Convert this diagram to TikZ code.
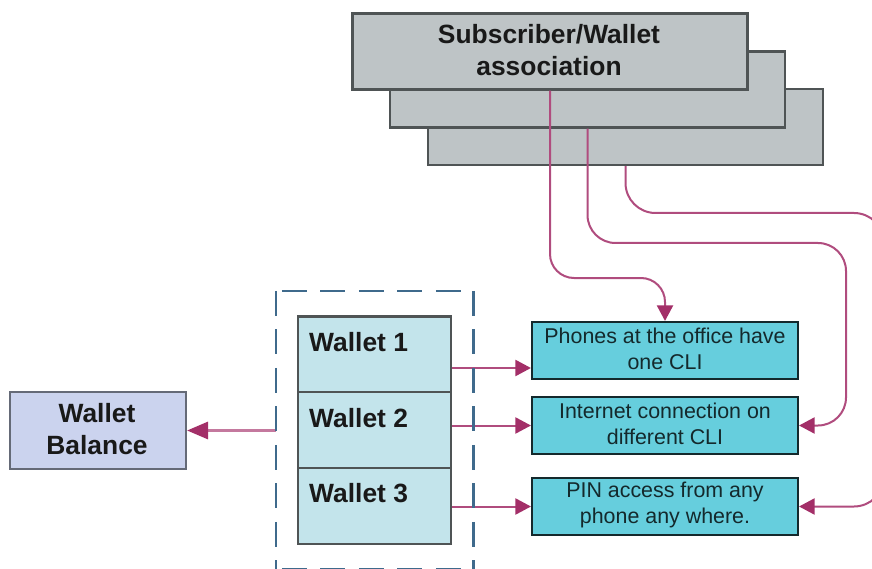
\documentclass[tikz,border=0pt]{standalone}
\usepackage{fontspec}
\setmainfont{Liberation Sans}
\usetikzlibrary{arrows.meta,calc}
\definecolor{conn}{HTML}{B04C7E}
\definecolor{tipc}{HTML}{A32F68}
\definecolor{greyfill}{HTML}{BEC4C6}
\definecolor{walletfill}{HTML}{C3E4EB}
\definecolor{balfill}{HTML}{CBD3EE}
\definecolor{teal}{HTML}{66CEDD}
\definecolor{framec}{HTML}{3F6A8C}
\definecolor{edgec}{HTML}{4F5455}
\tikzset{
  box/.style={draw=edgec,line width=2.1pt,inner sep=0pt,align=center},
  greybox/.style={box,fill=greyfill,minimum width=395pt,minimum height=76pt},
  walletbox/.style={box,fill=walletfill,minimum width=153pt,minimum height=76pt},
  tealbox/.style={box,draw=black!80!teal,fill=teal,minimum width=266pt,minimum height=57pt},
  tealtext/.style={inner sep=0pt,align=center,font=\fontsize{21.4}{26}\selectfont,text=black!80!teal},
  balbox/.style={box,draw=black!50!balfill,fill=balfill,minimum width=176pt,minimum height=77pt},
  boldtext/.style={inner sep=0pt,align=center,font=\fontsize{26.4}{32}\selectfont\bfseries,text=black!90},
  wire/.style={draw=conn,line width=2pt},
  arrowwire/.style={wire,-{Triangle[length=15.5pt,width=16pt,color=tipc]}},
  balwire/.style={draw=conn!75,line width=3pt,-{Triangle[length=21pt,width=17pt,color=tipc]}},
  framedash/.style={draw=framec,line width=2.6pt,dash pattern=on 25pt off 13.5pt}
}
\begin{document}
\begin{tikzpicture}[x=1pt,y=-1pt]
\useasboundingbox (0,0) rectangle (872,569);
\clip (0,0) rectangle (872,569);
% stacked grey boxes
\node[greybox] (s3) at (625.5,127) {};
\node[greybox] (s2) at (587.5,89.5) {};
\node[greybox] (s1) at (550,51.5) {};
\node[boldtext] (s1t) at (549,50) {Subscriber/Wallet\\association};
% wallets
\node[walletbox] (w1) at (374.5,354.5) {};
\node[walletbox] (w2) at (374.5,430) {};
\node[walletbox] (w3) at (374.5,506) {};
\node[boldtext,anchor=west] (w1t) at (309,342) {Wallet 1};
\node[boldtext,anchor=west] (w2t) at (309,418) {Wallet 2};
\node[boldtext,anchor=west] (w3t) at (309,493) {Wallet 3};
% balance
\node[balbox] (bal) at (98,430.5) {};
\node[boldtext] (balt) at (97,429) {Wallet\\Balance};
% teal boxes
\node[tealbox] (phones) at (665,350.5) {};
\node[tealtext] (phonest) at (665,349) {Phones at the office have\\one CLI};
\node[tealbox] (inet) at (665,425.5) {};
\node[tealtext] (inett) at (665,424) {Internet connection on\\different CLI};
\node[tealbox] (pin) at (665,506.5) {};
\node[tealtext] (pint) at (665,505) {PIN access from any\\phone any where.};
% helper coordinates
\coordinate (y1) at (0,278);
\coordinate (y2) at (0,243);
\coordinate (y3) at (0,213);
\coordinate (x2) at (846,0);
\coordinate (x3) at (884,0);
\coordinate (a1) at (0,368);
% frame
\node[inner sep=0pt,minimum width=197pt,minimum height=278pt] (frame) at (374.5,430) {};
% connectors
\draw[arrowwire,rounded corners=24pt] (s1.south) -- (s1.south |- y1) -- (phones.north |- y1) -- (phones.north);
\draw[arrowwire,rounded corners=28pt] (s2.south) -- (s2.south |- y2) -- (x2 |- y2) -- (x2 |- inet.east) -- (inet.east);
\draw[arrowwire,rounded corners=30pt] (s3.south) -- (s3.south |- y3) -- (x3 |- y3) -- (x3 |- pin.east) -- (pin.east);
\draw[arrowwire] (w1.east |- a1) -- (phones.west |- a1);
\draw[arrowwire] (w2.east |- inet.west) -- (inet.west);
\draw[arrowwire] (w3.east |- pin.west) -- (pin.west);
\draw[balwire] (frame.west |- bal.east) -- (bal.east);
% dashed frame
\draw[framedash] (frame.north west) -- (frame.south west);
\draw[framedash] (frame.north east) -- (frame.south east);
\draw[framedash,dash phase=32.5pt] (frame.north west) -- (frame.north east);
\draw[framedash,dash phase=32.5pt] (frame.south west) -- (frame.south east);
\end{tikzpicture}
\end{document}
